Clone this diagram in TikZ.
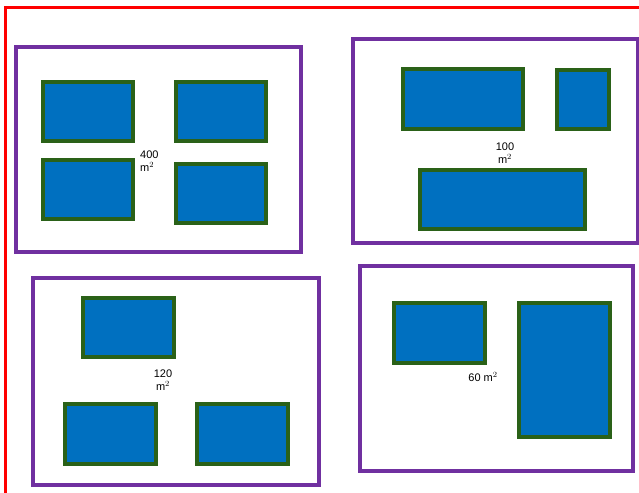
\documentclass[tikz,border=0pt]{standalone}
\usepackage{fontspec}
\setmainfont{Liberation Sans}
\definecolor{frame}{HTML}{FF0000}
\definecolor{plot}{HTML}{7030A0}
\definecolor{bfill}{HTML}{0070C0}
\definecolor{bedge}{HTML}{2A6118}
\begin{document}
\begin{tikzpicture}[x=1pt,y=-1pt,
  plotbox/.style={draw=plot,line width=3.6pt},
  bldg/.style={draw=bedge,fill=bfill,line width=3.2pt},
  area/.style={font=\fontsize{11}{13}\selectfont,inner sep=0pt}]
\useasboundingbox (0,0) rectangle (639,492);
\fill[white] (0,0) rectangle (639,492);
% red frame
\draw[frame,line width=3pt] (5,500) -- (5,8) -- (645,8);
% plots
\draw[plotbox] (16,47) rectangle (301,252);
\draw[plotbox] (353,39) rectangle (638,243);
\draw[plotbox] (33,278) rectangle (319,485);
\draw[plotbox] (360,266) rectangle (633,471);
% buildings plot 1
\draw[bldg] (43,82) rectangle (133,141);
\draw[bldg] (176,82) rectangle (266,141);
\draw[bldg] (43,160) rectangle (133,219);
\draw[bldg] (176,164) rectangle (266,223);
% plot 2
\draw[bldg] (403,69) rectangle (523,129);
\draw[bldg] (557,70) rectangle (609,129);
\draw[bldg] (420,170) rectangle (585,229);
% plot 3
\draw[bldg] (83,298) rectangle (174,357);
\draw[bldg] (65,404) rectangle (156,464);
\draw[bldg] (197,404) rectangle (288,464);
% plot 4
\draw[bldg] (394,303) rectangle (485,363);
\draw[bldg] (519,303) rectangle (610,437);
% labels
\node[area,align=left,anchor=north west] (a1) at (140,151) {400\\m$^2$};
\node[area,align=center,anchor=north] (a2) at (505,143) {100\\m$^2$};
\node[area,align=center,anchor=north] (a3) at (163,370) {120\\m$^2$};
\node[area,anchor=center] (a4) at (483,377) {60 m$^2$};
\end{tikzpicture}
\end{document}
